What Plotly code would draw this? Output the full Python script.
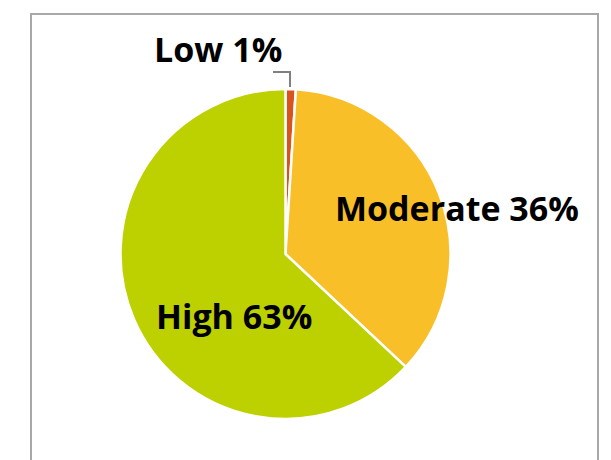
import plotly.graph_objects as go

categories = ["Low", "Moderate", "High"]
values = [1, 36, 63]
colors = ["#D9531E", "#F8BF28", "#BDD000"]

W, H = 611, 460
cx, cy, r = 285.5, 254, 165

def px_x(x):
    return x / W

def px_y(y):
    return 1 - y / H

total = sum(values)
pct = [round(v / total * 100) for v in values]
label_text = [f"<b>{c} {p}%</b>" for c, p in zip(categories, pct)]

fig = go.Figure(
    go.Pie(
        labels=categories,
        values=values,
        sort=False,
        direction="clockwise",
        rotation=0,
        marker=dict(colors=colors, line=dict(color="white", width=2.5)),
        textinfo="none",
        hoverinfo="label+percent",
        showlegend=False,
        domain=dict(
            x=[px_x(cx - r), px_x(cx + r)],
            y=[px_y(cy + r), px_y(cy - r)],
        ),
    )
)

font = dict(family="Open Sans", size=34, color="black")
label_pos = {
    "Low": (152, 49),
    "Moderate": (333, 208),
    "High": (154, 316),
}
annotations = []
for c, t in zip(categories, label_text):
    x, y = label_pos[c]
    annotations.append(
        dict(
            x=px_x(x), y=px_y(y), xref="paper", yref="paper",
            text=t, showarrow=False, xanchor="left", yanchor="middle",
            font=font,
        )
    )

shapes = [
    dict(
        type="rect", xref="paper", yref="paper",
        x0=px_x(31), x1=px_x(598), y0=px_y(14), y1=px_y(480),
        line=dict(color="#A8A8A8", width=2), fillcolor="rgba(0,0,0,0)",
        layer="below",
    ),
    dict(
        type="path", xref="paper", yref="paper",
        path=f"M {px_x(273)},{px_y(72)} L {px_x(290)},{px_y(72)} L {px_x(290)},{px_y(87)}",
        line=dict(color="#808080", width=2),
    ),
]

fig.update_layout(
    width=W, height=H,
    margin=dict(l=0, r=0, t=0, b=0),
    paper_bgcolor="white",
    plot_bgcolor="white",
    annotations=annotations,
    shapes=shapes,
)

fig.write_html("out.html")
